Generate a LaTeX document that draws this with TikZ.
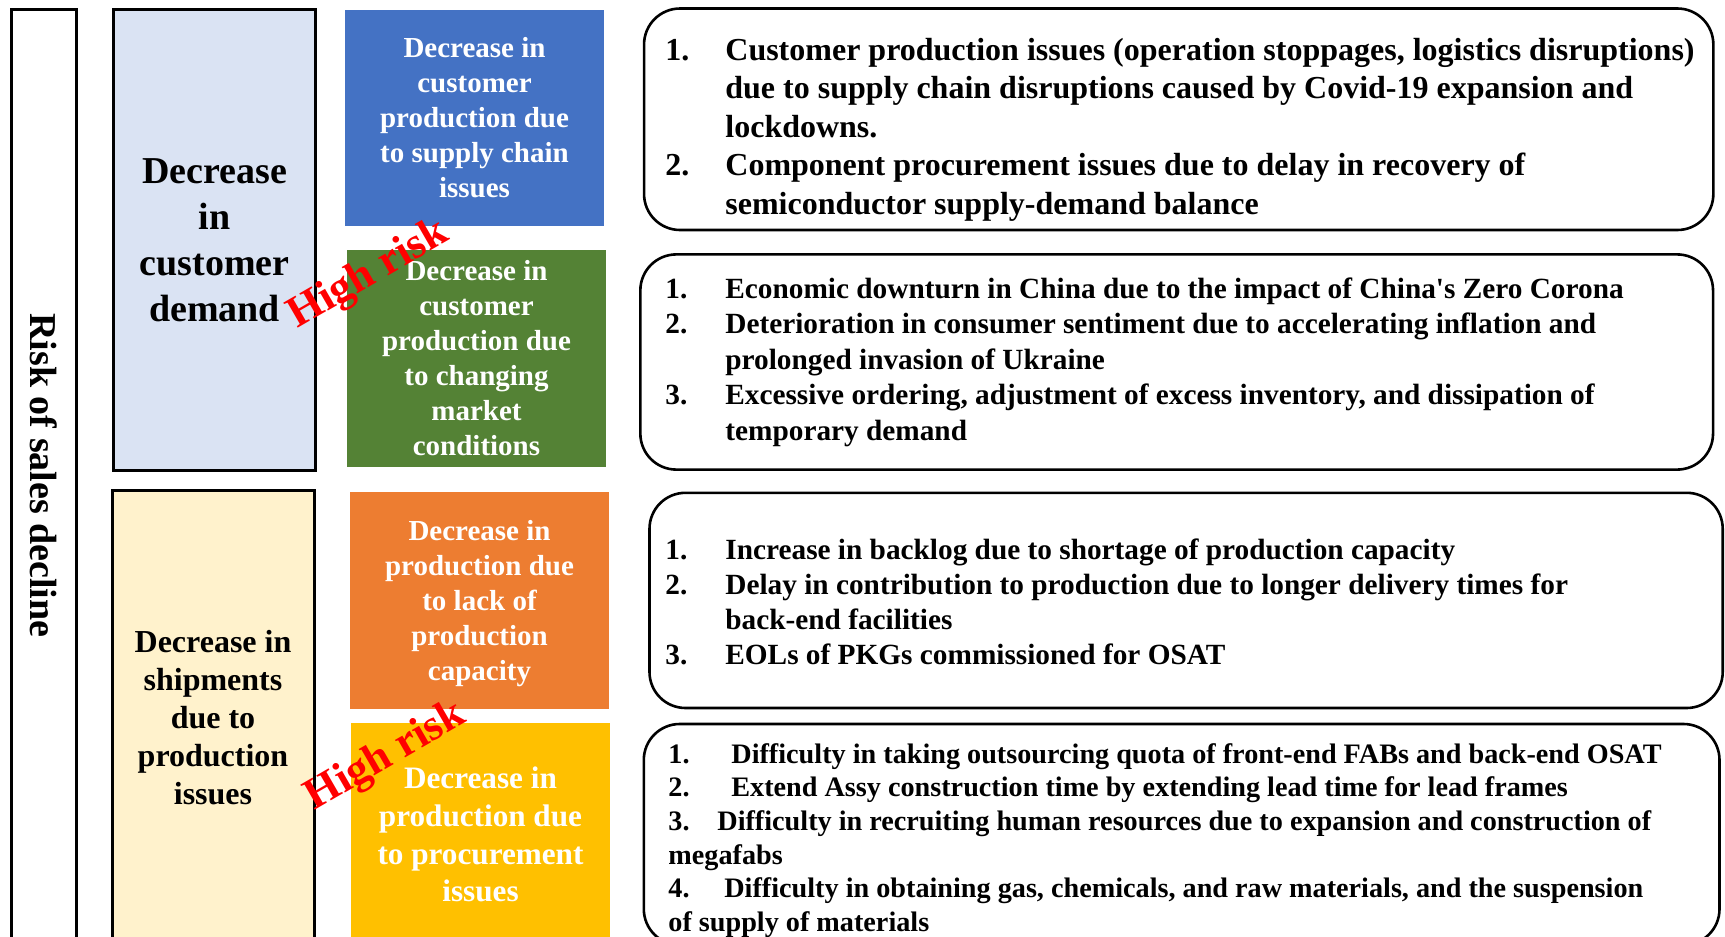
\documentclass[tikz,border=0pt]{standalone}
\usepackage{fontspec}
\setmainfont{Liberation Serif}
\definecolor{lblue}{HTML}{DAE3F3}
\definecolor{lyel}{HTML}{FFF2CC}
\definecolor{cblue}{HTML}{4472C4}
\definecolor{cgreen}{HTML}{548235}
\definecolor{corange}{HTML}{ED7D31}
\definecolor{cyel}{HTML}{FFC000}
\newcommand\rsnum[2]{\makebox[#1][l]{#2}}
\begin{document}
\begin{tikzpicture}[x=0.5pt,y=-0.5pt,
  frame/.style={draw=black, line width=1.5pt, inner sep=0pt, align=center},
  cbox/.style={inner sep=0pt, minimum width=129.5pt, text=white, align=center,
    font=\bfseries\fontsize{14.5}{17.5}\selectfont},
  rbox/.style={draw=black, line width=1.3pt, rounded corners=18pt, inner sep=0pt},
  list/.style={anchor=base west, inner sep=0pt},
  hrisk/.style={text=red, rotate=30, inner sep=0pt,
    font=\bfseries\fontsize{22}{26}\selectfont}
]
\useasboundingbox (0,0) rectangle (1725,937);
\fill[white] (0,0) rectangle (1725,937);

% left frame
\node[frame, minimum width=32.75pt, minimum height=466.5pt] (riskbox) at (43.75,475.5) {};
\node[rotate=-90, inner sep=0pt, font=\bfseries\fontsize{19}{23}\selectfont] (risktxt) at (riskbox.center) {Risk of sales decline};

% category boxes
\node[frame, fill=lblue, minimum width=101pt, minimum height=230.75pt,
  font=\bfseries\fontsize{19}{23}\selectfont] (demand) at (214.5,239.75)
  {Decrease\\in\\customer\\demand};
\node[frame, fill=lyel, minimum width=101pt, minimum height=228pt,
  font=\bfseries\fontsize{16}{19}\selectfont] (ship) at (213,718)
  {Decrease in\\shipments\\due to\\production\\issues};

% coloured boxes
\node[cbox, fill=cblue, minimum height=108pt] (supply) at (474.5,117.5)
  {Decrease in\\customer\\production due\\to supply chain\\issues};
\node[cbox, fill=cgreen, minimum height=108.5pt] (market) at (476.5,358.5)
  {Decrease in\\customer\\production due\\to changing\\market\\conditions};
\node[cbox, fill=corange, minimum height=108.5pt, text depth=0pt] (capac) at (479.5,600)
  {Decrease in\\production due\\to lack of\\production\\capacity};
\node[cbox, fill=cyel, minimum height=111.5pt, font=\bfseries\fontsize{15.6}{18.9}\selectfont] (procure) at (480.5,834.5)
  {Decrease in\\production due\\to procurement\\issues};

% rounded boxes
\node[rbox, minimum width=534.65pt, minimum height=110.75pt] (r1) at (1178.7,119.25) {};
\node[rbox, minimum width=536.35pt, minimum height=107.6pt] (r2) at (1176.7,362) {};
\node[rbox, minimum width=536.6pt, minimum height=107.6pt] (r3) at (1186.1,600.4) {};
\node[rbox, minimum width=537.85pt, minimum height=110.5pt] (r4) at (1181.65,834.5) {};

% lists
\node[list] (t1) at (665,60) {\parbox[t]{640pt}{\fontsize{16}{19.3}\selectfont\bfseries
\rsnum{30pt}{1.}Customer production issues (operation stoppages, logistics disruptions)\\
\hspace*{30pt}due to supply chain disruptions caused by Covid-19 expansion and\\
\hspace*{30pt}lockdowns.\\
\rsnum{30pt}{2.}Component procurement issues due to delay in recovery of\\
\hspace*{30pt}semiconductor supply-demand balance}};

\node[list] (t2) at (665,298) {\parbox[t]{640pt}{\fontsize{14.65}{17.75}\selectfont\bfseries
\rsnum{30pt}{1.}Economic downturn in China due to the impact of China\textquotesingle s Zero Corona\\
\rsnum{30pt}{2.}Deterioration in consumer sentiment due to accelerating inflation and\\
\hspace*{30pt}prolonged invasion of Ukraine\\
\rsnum{30pt}{3.}Excessive ordering, adjustment of excess inventory, and dissipation of\\
\hspace*{30pt}temporary demand}};

\node[list] (t3) at (665,559) {\parbox[t]{640pt}{\fontsize{14.65}{17.6}\selectfont\bfseries
\rsnum{30pt}{1.}Increase in backlog due to shortage of production capacity\\
\rsnum{30pt}{2.}Delay in contribution to production due to longer delivery times for\\
\hspace*{30pt}back-end facilities\\
\rsnum{30pt}{3.}EOLs of PKGs commissioned for OSAT}};

\node[list] (t4) at (668,763) {\parbox[t]{640pt}{\fontsize{14.1}{16.85}\selectfont\bfseries
\rsnum{31.5pt}{1.}Difficulty in taking outsourcing quota of front-end FABs and back-end OSAT\\
\rsnum{31.5pt}{2.}Extend Assy construction time by extending lead time for lead frames\\
\rsnum{24.5pt}{3.}Difficulty in recruiting human resources due to expansion and construction of\\
megafabs\\
\rsnum{28pt}{4.}Difficulty in obtaining gas, chemicals, and raw materials, and the suspension\\
of supply of materials}};

% high risk labels
\node[hrisk] (hr1) at (369,275) {High risk};
\node[hrisk] (hr2) at (386,757) {High risk};
\end{tikzpicture}
\end{document}
